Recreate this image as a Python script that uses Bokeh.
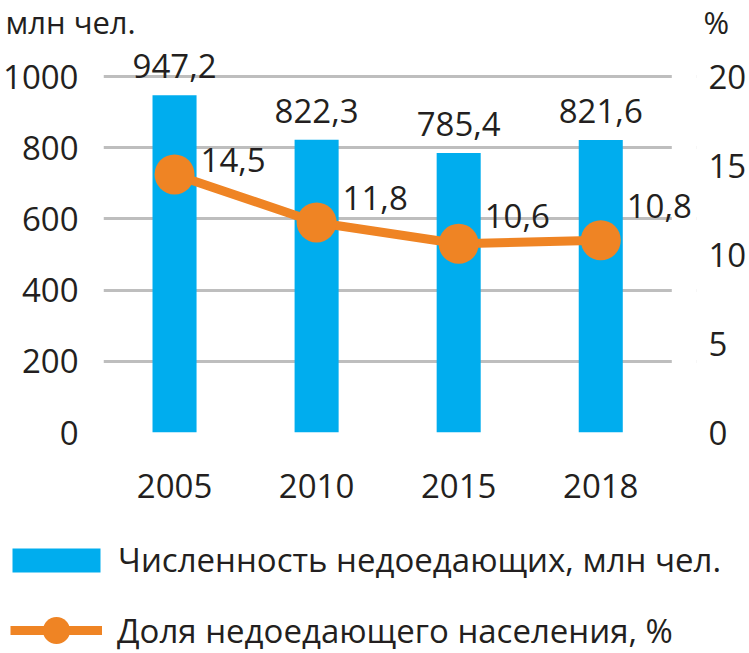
from bokeh.plotting import figure
from bokeh.layouts import column
from bokeh.models import (Range1d, LinearAxis, FixedTicker, Legend, LegendItem,
                          ColumnDataSource, Label, BoxAnnotation)
from bokeh.core.properties import value
from bokeh.embed import file_html
from bokeh.resources import INLINE

years = ["2005", "2010", "2015", "2018"]
undernourished_mln = [947.2, 822.3, 785.4, 821.6]
share_pct = [14.5, 11.8, 10.6, 10.8]
bar_labels = ["947,2", "822,3", "785,4", "821,6"]
pct_labels = ["14,5", "11,8", "10,6", "10,8"]
left_ticks = [0, 200, 400, 600, 800, 1000]
right_ticks = [0, 5, 10, 15, 20]
legend_bar = "Численность недоедающих, млн чел."
legend_line = "Доля недоедающего населения, %"
unit_left = "млн чел."
unit_right = "%"

# style-only offsets for the percentage labels (pixels above the point)
pct_label_lift = [14, 24, 28, 34]

BLUE = "#00ADEE"
ORANGE = "#EF8424"
TEXT = "#231F20"
GRID = "#BEBEBE"
FONT = "Open Sans"
NUM = "33px"

W = 749
TOP_H = 42            # strip with unit captions
MAIN_H = 478          # main chart (frame 390 px tall)
LEG_H = 653 - TOP_H - MAIN_H

# ---------- unit captions strip ----------
top = figure(width=W, height=TOP_H, output_backend="svg", toolbar_location=None,
             x_range=Range1d(0, 1), y_range=Range1d(0, 1),
             x_axis_location=None, y_axis_location=None, min_border=0,
             frame_align=False)
top.outline_line_color = None
top.grid.visible = False
top.add_layout(Label(x=5, y=TOP_H - 21, x_units="screen", y_units="screen",
                     text=unit_left, text_baseline="middle", text_font=FONT,
                     text_font_size="31px", text_color=TEXT))
top.add_layout(Label(x=703, y=TOP_H - 21, x_units="screen", y_units="screen",
                     text=unit_right, text_baseline="middle", text_font=FONT,
                     text_font_size="31px", text_color=TEXT))

# ---------- main chart ----------
frame_left, frame_right = 100, 700
frame_h = MAIN_H - 88
px_per_unit = 356 / 1000.0
y_top = frame_h / px_per_unit
pct_top = y_top * 20 / 1000.0
n = len(years)
xs = list(range(n))
slot_px = 575 / n
x_end = (n - 0.5) + (frame_right - frame_left - 575) / slot_px

p = figure(width=W, height=MAIN_H, output_backend="svg", toolbar_location=None,
           x_range=Range1d(-0.5, x_end), y_range=Range1d(0, y_top),
           min_border_left=frame_left, min_border_right=W - frame_right,
           min_border_top=0, min_border_bottom=MAIN_H - frame_h, frame_align=False)
p.outline_line_color = None
p.extra_y_ranges = {"pct": Range1d(0, pct_top)}

for ax in (p.yaxis[0], p.xaxis[0]):
    ax.axis_line_color = None
    ax.major_tick_line_color = None
    ax.minor_tick_line_color = None
    ax.major_label_text_font = FONT
    ax.major_label_text_font_size = NUM
    ax.major_label_text_color = TEXT

p.yaxis[0].ticker = FixedTicker(ticks=left_ticks)
p.yaxis[0].major_label_standoff = 19
p.xaxis[0].ticker = FixedTicker(ticks=xs)
p.xaxis[0].major_label_overrides = {i: y for i, y in zip(xs, years)}
p.xaxis[0].major_label_standoff = 35

ra = LinearAxis(y_range_name="pct", ticker=FixedTicker(ticks=right_ticks))
ra.axis_line_color = None
ra.major_tick_line_color = None
ra.minor_tick_line_color = None
ra.major_label_text_font = FONT
ra.major_label_text_font_size = NUM
ra.major_label_text_color = TEXT
ra.major_label_standoff = 6
p.add_layout(ra, "right")

p.xgrid.grid_line_color = None
p.ygrid.ticker = FixedTicker(ticks=left_ticks)
p.ygrid.grid_line_color = GRID
p.ygrid.grid_line_width = 3
# grid lines stop at the edge of the last category slot
p.add_layout(BoxAnnotation(left=n - 0.5, right=x_end + 1, fill_color="white", fill_alpha=1,
                           line_color=None, level="underlay"))

src = ColumnDataSource(dict(x=xs, v=undernourished_mln, pct=share_pct,
                            bl=bar_labels, pl=pct_labels,
                            lift=[-d for d in pct_label_lift]))

p.vbar(x="x", top="v", width=0.31, source=src, fill_color=BLUE, line_color=None)
p.text(x="x", y="v", text="bl", source=src, text_align="center", text_baseline="middle",
       y_offset=-29, text_font=value(FONT), text_font_size=NUM, text_color=TEXT)

p.line(x="x", y="pct", source=src, y_range_name="pct", line_color=ORANGE, line_width=9)
p.scatter(x="x", y="pct", source=src, y_range_name="pct", size=40,
          fill_color=ORANGE, line_color=None)
p.text(x="x", y="pct", text="pl", source=src, y_range_name="pct", text_align="left",
       text_baseline="middle", x_offset=26, y_offset="lift", text_font=value(FONT),
       text_font_size=NUM, text_color=TEXT)

# ---------- legend strip ----------
# legend swatches come from renderers of the same data, kept outside this strip's view
lg = figure(width=W, height=LEG_H, output_backend="svg", toolbar_location=None,
            x_range=Range1d(-100, -99), y_range=Range1d(-100, -99),
            x_axis_location=None, y_axis_location=None, min_border=0,
            frame_align=False)
lg.outline_line_color = None
lg.grid.visible = False
r_bar = lg.vbar(x="x", top="v", width=0.31, source=src, fill_color=BLUE, line_color=None)
r_line = lg.line(x="x", y="pct", source=src, line_color=ORANGE, line_width=9)
r_dot = lg.scatter(x="x", y="pct", source=src, size=28, fill_color=ORANGE, line_color=None)

leg1 = Legend(items=[LegendItem(label=legend_bar, renderers=[r_bar])],
              location=(1, LEG_H - 62),
              glyph_width=110, glyph_height=30, label_standoff=7,
              padding=0, margin=0, border_line_color=None, background_fill_alpha=0,
              label_text_font=FONT, label_text_font_size=NUM, label_text_color=TEXT)
leg2 = Legend(items=[LegendItem(label=legend_line, renderers=[r_line, r_dot])],
              location=(10, LEG_H - 144),
              glyph_width=92, glyph_height=68, label_standoff=15,
              padding=0, margin=0, border_line_color=None, background_fill_alpha=0,
              label_text_font=FONT, label_text_font_size=NUM, label_text_color=TEXT)
lg.add_layout(leg1, "center")
lg.add_layout(leg2, "center")

layout = column(top, p, lg, spacing=0)
open("out.html", "w").write(file_html(layout, INLINE))
